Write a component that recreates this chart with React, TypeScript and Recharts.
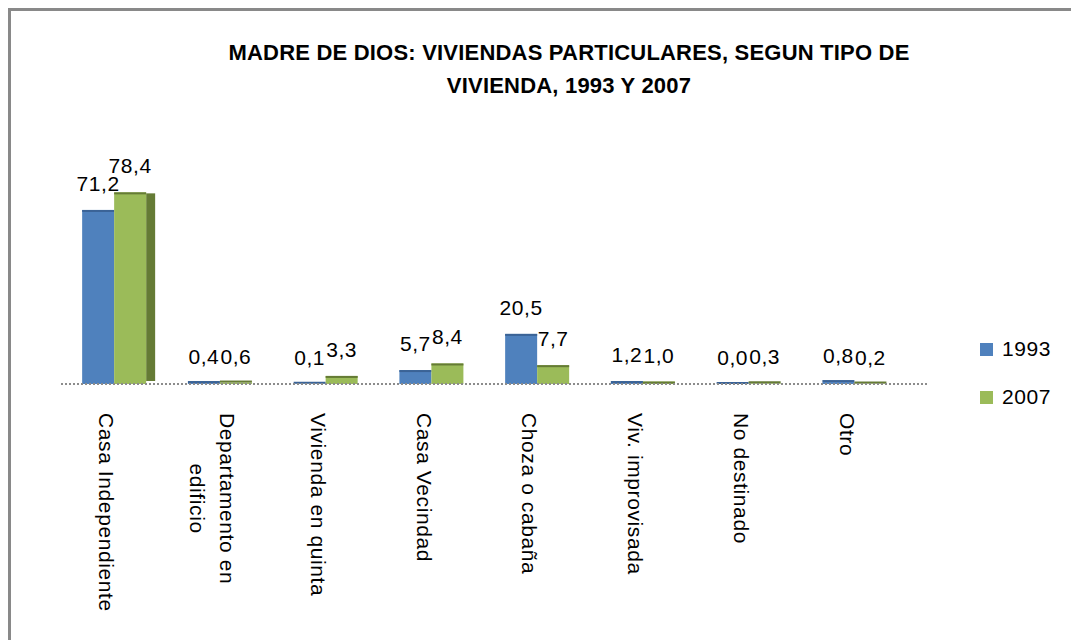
import React from "react";
import { Bar, BarChart, LabelList, Legend, XAxis, YAxis } from "recharts";

const categories = [
  "Casa Independiente",
  "Departamento en edificio",
  "Vivienda en quinta",
  "Casa Vecindad",
  "Choza o cabaña",
  "Viv. improvisada",
  "No destinado",
  "Otro",
];
const values1993 = [71.2, 0.4, 0.1, 5.7, 20.5, 1.2, 0.0, 0.8];
const values2007 = [78.4, 0.6, 3.3, 8.4, 7.7, 1.0, 0.3, 0.2];
const seriesNames = ["1993", "2007"];
const titleLines = ["MADRE DE DIOS: VIVIENDAS PARTICULARES, SEGUN TIPO DE", "VIVIENDA, 1993 Y 2007"];

const data = categories.map((name, i) => ({ name, v1993: values1993[i], v2007: values2007[i] }));

const FONT = "'Liberation Sans', Arial, sans-serif";
const BLUE = "#4f81bd";
const BLUE_DARK = "#3b6396";
const GREEN = "#9bbb59";
const GREEN_DARK = "#657b35";

let ctx: CanvasRenderingContext2D | null = null;
function textWidth(s: string) {
  if (!ctx) ctx = document.createElement("canvas").getContext("2d");
  if (!ctx) return s.length * 10;
  ctx.font = `21px ${FONT}`;
  return ctx.measureText(s).width + Math.max(0, s.length - 1) * 0.6;
}

function wrap(label: string, max: number) {
  const words = label.split(" ");
  const lines: string[] = [];
  let cur = "";
  for (const w of words) {
    const next = cur ? cur + " " + w : w;
    if (cur && textWidth(next) > max) {
      lines.push(cur);
      cur = w;
    } else cur = next;
  }
  if (cur) lines.push(cur);
  return lines;
}

function RotatedTick({ x, y, payload }: any) {
  const lines = wrap(String(payload.value), 215);
  const top = y + 29;
  const w0 = textWidth(lines[0]);
  return (
    <g>
      {lines.map((line, i) => {
        const bx = x - 14.5 + (lines.length - 1) * 15 - i * 30;
        const sy = top + (w0 - textWidth(line)) / 2;
        return (
          <text
            key={i}
            x={bx}
            y={sy}
            transform={`rotate(90, ${bx}, ${sy})`}
            fontFamily={FONT}
            fontSize={21}
            letterSpacing={0.6}
            fill="#000"
          >
            {line}
          </text>
        );
      })}
    </g>
  );
}

// flat bar with a darker top edge; tall bars get a shaded side face
const barShape = (fill: string, dark: string, depth: number) => (props: any) => {
  const { x, y, width, height } = props;
  const h = Math.max(height, 0);
  return (
    <g>
      {depth > 0 && h > 100 && <rect x={x + width} y={y + 1} width={depth} height={h - 4} fill={dark} />}
      <rect x={x} y={y} width={width} height={h} fill={fill} />
      <rect x={x} y={y - (h < 2 ? 2 : 0)} width={width} height={2} fill={dark} />
    </g>
  );
};

const valueLabel = (props: any) => {
  const { x, y, width, value } = props;
  return (
    <text
      x={x + width / 2}
      y={y - 19}
      textAnchor="middle"
      fontFamily={FONT}
      fontSize={21}
      letterSpacing={0.6}
      fill="#000"
    >
      {Number(value).toFixed(1).replace(".", ",")}
    </text>
  );
};

const renderLegend = (props: any) => (
  <div style={{ fontFamily: FONT, fontSize: 21, color: "#000" }}>
    {(props.payload || []).map((p: any) => (
      <div key={p.value} style={{ height: 48, display: "flex", alignItems: "center" }}>
        <span style={{ width: 13, height: 13, background: p.color, display: "inline-block", marginRight: 9 }} />
        <span style={{ letterSpacing: 0.6 }}>{p.value}</span>
      </div>
    ))}
  </div>
);

export default function App() {
  return (
    <div style={{ position: "absolute", left: 0, top: 0, width: 1071, height: 640, overflow: "hidden", background: "#fff" }}>
      <div
        style={{
          position: "absolute",
          left: 8,
          top: 8,
          width: 1120,
          height: 700,
          border: "3px solid #898989",
        }}
      />
      <div
        style={{
          position: "absolute",
          left: 69,
          top: 36,
          width: 1000,
          textAlign: "center",
          fontFamily: FONT,
          fontWeight: "bold",
          fontSize: 22,
          lineHeight: "33px",
          letterSpacing: 0.2,
          color: "#000",
        }}
      >
        {titleLines.map((t) => (
          <div key={t}>{t}</div>
        ))}
      </div>
      <div style={{ position: "absolute", left: 0, top: 0 }}>
        <BarChart
          width={1071}
          height={640}
          data={data}
          margin={{ top: 164, right: 143, bottom: 0, left: 61 }}
          barCategoryGap="20%"
          barGap={0}
        >
          <YAxis hide domain={[0, 90]} />
          <XAxis
            dataKey="name"
            height={256}
            interval={0}
            tickLine={false}
            tickSize={0}
            tickMargin={0}
            padding={{ left: 0, right: 21 }}
            axisLine={{ stroke: "#8c8c8c", strokeWidth: 2, strokeDasharray: "2 2" }}
            tick={<RotatedTick />}
          />
          <Legend
            layout="horizontal"
            verticalAlign="middle"
            align="center"
            content={renderLegend}
            wrapperStyle={{ left: 980, top: 325, width: 90, height: 96 }}
          />
          <Bar dataKey="v1993" name={seriesNames[0]} fill={BLUE} shape={barShape(BLUE, BLUE_DARK, 0)} isAnimationActive={false}>
            <LabelList dataKey="v1993" content={valueLabel} />
          </Bar>
          <Bar dataKey="v2007" name={seriesNames[1]} fill={GREEN} shape={barShape(GREEN, GREEN_DARK, 9)} isAnimationActive={false}>
            <LabelList dataKey="v2007" content={valueLabel} />
          </Bar>
        </BarChart>
      </div>
    </div>
  );
}
